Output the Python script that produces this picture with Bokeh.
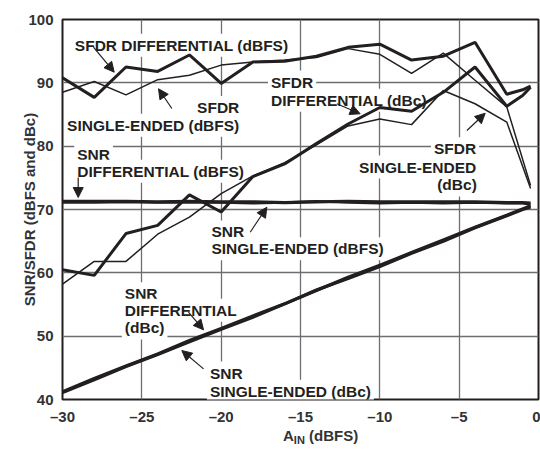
from bokeh.plotting import figure
from bokeh.models import Range1d, FixedTicker, Label, Arrow, NormalHead, Div
from bokeh.layouts import column
from bokeh.embed import file_html
from bokeh.resources import INLINE

# ---------------- data ----------------
x_pts = [-30, -28, -26, -24, -22, -20, -18, -16, -14, -12, -10, -8, -6, -4, -2, -1, -0.5]
x_se = [-30, -28, -26, -24, -22, -20, -18, -16, -14, -12, -10, -8, -6, -4, -2, -0.5]

sfdr_diff_dbfs = [90.8, 87.7, 92.5, 91.8, 94.4, 89.9, 93.3, 93.4, 94.2, 95.6, 96.1, 93.6, 94.2, 96.4, 88.2, 88.9, 89.5]
sfdr_se_dbfs = [88.5, 90.2, 88.1, 90.5, 91.2, 92.8, 93.3, 93.6, 94.0, 95.4, 94.5, 91.5, 94.7, 90.4, 86.2, 73.8]
sfdr_diff_dbc = [60.5, 59.6, 66.2, 67.5, 72.3, 69.6, 75.2, 77.2, 80.4, 83.5, 86.1, 85.5, 88.5, 92.5, 86.3, 88.0, 89.3]
sfdr_se_dbc = [58.2, 61.8, 61.8, 66.1, 68.8, 72.5, 75.3, 77.4, 80.2, 83.2, 84.3, 83.4, 88.8, 86.7, 83.8, 73.3]
snr_diff_dbfs = [71.3, 71.3, 71.3, 71.2, 71.3, 71.2, 71.2, 71.1, 71.2, 71.3, 71.2, 71.2, 71.2, 71.2, 71.1, 71.1, 71.0]
snr_se_dbfs = [71.1, 71.1, 71.2, 71.1, 71.1, 71.1, 71.0, 71.1, 71.3, 71.1, 71.0, 71.1, 71.0, 71.1, 71.0, 71.0, 70.8]
snr_diff_dbc = [41.2, 43.3, 45.3, 47.2, 49.3, 51.2, 53.2, 55.1, 57.2, 59.3, 61.2, 63.2, 65.2, 67.2, 69.1, 70.1, 70.6]
snr_se_dbc = [41.1, 43.1, 45.2, 47.1, 49.1, 51.1, 53.0, 55.1, 57.3, 59.1, 61.0, 63.1, 65.0, 67.1, 69.0, 70.0, 70.4]

x_ticks = [-30, -25, -20, -15, -10, -5, 0]
x_tick_labels = ["\u201330", "\u201325", "\u201320", "\u201315", "\u201310", "\u20135", "0"]
y_ticks = [40, 50, 60, 70, 80, 90, 100]

INK = "#231F20"
AXTXT = "#333333"
FONT = "Liberation Sans"

p = figure(width=540, height=428, output_backend="svg", toolbar_location=None,
           x_range=Range1d(-30, 0), y_range=Range1d(40, 100),
           min_border_left=62, min_border_right=2, min_border_top=19, min_border_bottom=29)

p.background_fill_color = "white"
p.border_fill_color = "white"
p.outline_line_color = INK
p.outline_line_width = 2

for ax in (p.xaxis[0], p.yaxis[0]):
    ax.major_tick_line_color = None
    ax.minor_tick_line_color = None
    ax.axis_line_color = None
    ax.major_label_text_font = FONT
    ax.major_label_text_font_style = "bold"
    ax.major_label_text_font_size = "15px"
    ax.major_label_text_color = AXTXT
    ax.major_tick_out = 0
    ax.major_tick_in = 0

p.xaxis.ticker = FixedTicker(ticks=x_ticks)
p.xaxis.major_label_overrides = {t: s for t, s in zip(x_ticks, x_tick_labels)}
p.yaxis.ticker = FixedTicker(ticks=y_ticks)
p.xaxis.major_label_standoff = 8
p.yaxis.major_label_standoff = 9

p.yaxis.axis_label = "SNR/SFDR (dBFS and dBc)"
p.yaxis.axis_label_text_font = FONT
p.yaxis.axis_label_text_font_style = "bold"
p.yaxis.axis_label_text_font_size = "15px"
p.yaxis.axis_label_text_color = AXTXT
p.yaxis.axis_label_standoff = -13

p.xgrid.ticker = FixedTicker(ticks=x_ticks)
p.ygrid.ticker = FixedTicker(ticks=y_ticks)
for g in (p.xgrid[0], p.ygrid[0]):
    g.grid_line_color = "#6d6e71"
    g.grid_line_width = 1.3

# ---------------- lines ----------------
p.line(x_pts, snr_diff_dbc, line_color=INK, line_width=3.2)
p.line(x_pts, snr_se_dbc, line_color=INK, line_width=3.2)
p.line(x_pts, snr_se_dbfs, line_color=INK, line_width=2.6)
p.line(x_pts, snr_diff_dbfs, line_color=INK, line_width=3.2)
p.line(x_se, sfdr_se_dbc, line_color=INK, line_width=1.5)
p.line(x_pts, sfdr_diff_dbc, line_color=INK, line_width=3.0)
p.line(x_se, sfdr_se_dbfs, line_color=INK, line_width=1.5)
p.line(x_pts, sfdr_diff_dbfs, line_color=INK, line_width=3.0)

# ---------------- annotations ----------------
# (text, x, baseline y, align)
notes = [
    ("SFDR DIFFERENTIAL (dBFS)", -29.41, 95.93, "left"),
    ("SFDR", -18.67, 86.10, "right"),
    ("SINGLE-ENDED (dBFS)", -18.67, 83.29, "right"),
    ("SFDR", -17.05, 90.13, "left"),
    ("DIFFERENTIAL (dBc)", -17.05, 87.24, "left"),
    ("SFDR", -3.74, 79.60, "right"),
    ("SINGLE-ENDED", -3.74, 76.71, "right"),
    ("(dBc)", -3.70, 73.87, "right"),
    ("SNR", -29.26, 78.65, "left"),
    ("DIFFERENTIAL (dBFS)", -29.26, 76.03, "left"),
    ("SNR", -20.80, 66.45, "left"),
    ("SINGLE-ENDED (dBFS)", -20.80, 63.81, "left"),
    ("SNR", -26.26, 56.70, "left"),
    ("DIFFERENTIAL", -26.26, 54.08, "left"),
    ("(dBc)", -26.26, 51.29, "left"),
    ("SNR", -20.90, 44.18, "left"),
    ("SINGLE-ENDED (dBc)", -20.90, 41.29, "left"),
]
for txt, xx, yy, al in notes:
    p.add_layout(Label(x=xx, y=yy, text=txt, text_align=al, text_baseline="alphabetic",
                       text_font=FONT, text_font_style="bold", text_font_size="15.5px",
                       text_color=INK, background_fill_color="white", padding=3,
                       level="underlay"))

# arrows: (x_start, y_start, x_end, y_end)
arrows = [
    (-28.05, 95.63, -26.74, 91.68),
    (-23.11, 85.95, -23.95, 89.06),
    (-12.71, 86.69, -11.24, 85.11),
    (-4.51, 82.47, -3.36, 85.20),
    (-29.01, 75.05, -29.01, 71.89),
    (-18.17, 66.41, -17.12, 70.36),
    (-22.06, 53.78, -21.11, 51.0),
    (-21.11, 44.84, -22.48, 47.73),
]
for xs, ys, xe, ye in arrows:
    p.add_layout(Arrow(x_start=xs, y_start=ys, x_end=xe, y_end=ye, line_color=INK, line_width=1.2,
                       end=NormalHead(size=10, fill_color=INK, line_color=INK, line_width=1)))

xlabel = Div(
    text=('<div style="font-family: \'Liberation Sans\'; font-weight: bold; font-size: 15px; '
          'line-height: 15px; color: #333333; white-space: nowrap;">'
          'A<sub style="font-size: 11px; vertical-align: -3px;">IN</sub> (dBFS)</div>'),
    width=200, height=20, margin=(0, 0, 0, 283))

layout = column(p, xlabel, spacing=0)

open("out.html", "w").write(file_html(layout, INLINE))
